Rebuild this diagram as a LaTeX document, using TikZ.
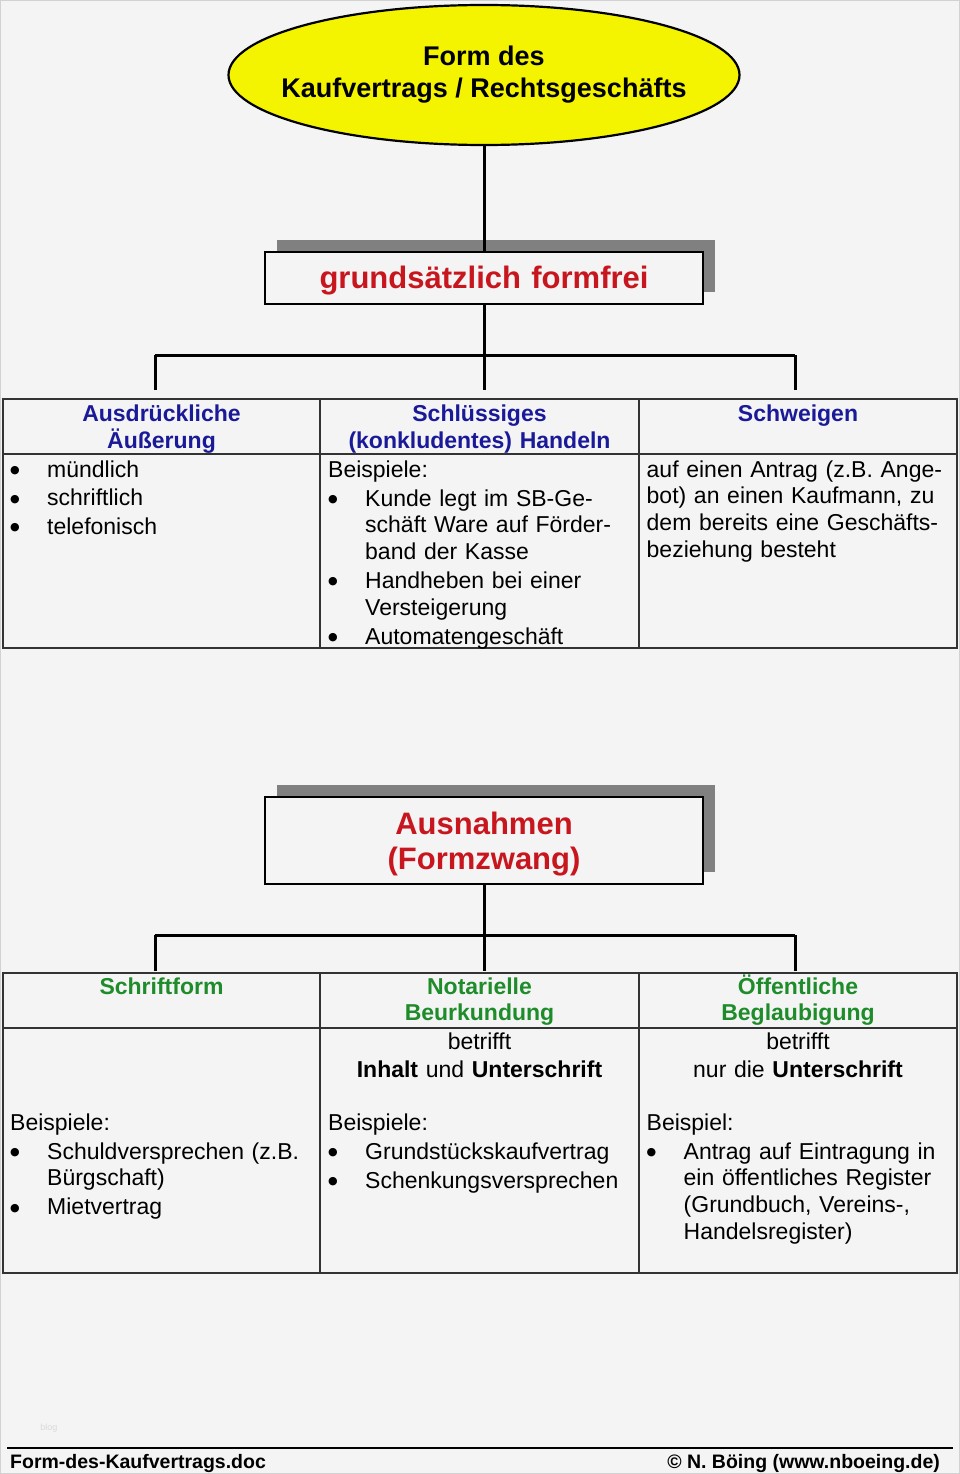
\documentclass[tikz,border=0pt]{standalone}
\usepackage{fontspec}
\setmainfont{Liberation Sans}
\newfontfamily\symfont{DejaVu Sans}
\usetikzlibrary{positioning, shapes.geometric, shadows}

\definecolor{bggray}{HTML}{F4F4F4}
\definecolor{titleyellow}{HTML}{F4F400}
\definecolor{shadowgray}{HTML}{808080}
\definecolor{titlered}{HTML}{C8161E}
\definecolor{headblue}{HTML}{1A1A99}
\definecolor{headgreen}{HTML}{1E8C2A}
\definecolor{tabline}{HTML}{333333}

\newcommand\blt{\makebox[37pt][l]{\raisebox{3.5pt}{\symfont\fontsize{11}{11}\selectfont ●}}}
\newcommand\ind{\hspace*{37pt}}

\begin{document}
\begin{tikzpicture}[x=1pt, y=-1pt,
        every node/.style={inner sep=0pt},
        conn/.style={line width=3pt},
        tab/.style={draw=tabline, line width=1.4pt},
        formbox/.style={draw, line width=1.4pt, fill=bggray, minimum width=438pt,
            drop shadow={shadow xshift=12pt, shadow yshift=12pt, fill=shadowgray, opacity=1}},
        formtext/.style={anchor=base, text width=430pt, align=center, text=titlered,
            font=\bfseries\fontsize{31}{35}\selectfont},
        headtext/.style={anchor=base, text width=300pt, align=center, font=\bfseries\fontsize{23}{26.7}\selectfont},
        midtext/.style={anchor=base, text width=300pt, align=center, font=\fontsize{23}{26.7}\selectfont},
        bodytext/.style={anchor=base west, text width=305pt, align=left, font=\fontsize{23}{26.7}\selectfont}
        ]

    \useasboundingbox (0,0) rectangle (960,1474);
    \fill[bggray] (0,0) rectangle (960,1474);
    \draw[gray!35, line width=1pt] (0.5,0.5) rectangle (959.5,1473.5);

    % title and the two boxes
    \node[ellipse, draw, line width=2.2pt, fill=titleyellow, minimum width=511pt, minimum height=140pt,
        inner xsep=-26pt, align=center, font=\bfseries\fontsize{27}{32}\selectfont] (title) at (484,75)
        {Form des\\Kaufvertrags / Rechtsgeschäfts};
    \node[formbox, minimum height=52pt] (frei) at (484,278) {};
    \node[formtext] (freitext) at (484,288) {grundsätzlich formfrei};
    \node[formbox, minimum height=87pt] (ausn) at (484,840.5) {};
    \node[formtext] (ausntext) at (484,834) {Ausnahmen\\(Formzwang)};

    % connectors
    \draw[conn] (title.south) -- (frei.north);
    \foreach \x [count=\i] in {155,484,795} {
        \coordinate (up\i) at (\x,355);
        \coordinate (dn\i) at (\x,390);
        \draw[conn] (up\i) -- (dn\i);
        \coordinate (lo\i) at (\x,935);
        \coordinate (ld\i) at (\x,971);
        \draw[conn] (lo\i) -- (ld\i);
    }
    \draw[conn] (frei.south) -- (up2);
    \draw[conn] (up1) -- (up3);
    \draw[conn] (ausn.south) -- (lo2);
    \draw[conn] (lo1) -- (lo3);

    % first table
    \draw[tab] (3,399) rectangle (957,648);
    \draw[tab] (3,454) -- (957,454) (320,399) -- (320,648) (639,399) -- (639,648);

    \node[headtext, text=headblue] (h11) at (161.5,421.7) {Ausdrückliche\\Äußerung};
    \node[headtext, text=headblue] (h12) at (479.5,421.7) {Schlüssiges\\(konkludentes) Handeln};
    \node[headtext, text=headblue] (h13) at (798,421.7) {Schweigen};

    \node[bodytext] (b11) at (10,477) {\blt mündlich\\[1.8pt]\blt schriftlich\\[1.8pt]\blt telefonisch};
    \node[bodytext] (b12) at (328,477) {Beispiele:\\[2.3pt]\blt Kunde legt im SB-Ge-\\\ind schäft Ware auf Förder-\\\ind band der Kasse\\[2.3pt]\blt Handheben bei einer\\\ind Versteigerung\\[2.3pt]\blt Automatengeschäft};
    \node[bodytext] (b13) at (646.5,477) {auf einen Antrag (z.B. Ange-\\bot) an einen Kaufmann, zu\\dem bereits eine Geschäfts-\\beziehung besteht};

    % second table
    \draw[tab] (3,973) rectangle (957,1273);
    \draw[tab] (3,1028) -- (957,1028) (320,973) -- (320,1273) (639,973) -- (639,1273);

    \node[headtext, text=headgreen] (h21) at (161.5,994) {Schriftform};
    \node[headtext, text=headgreen] (h22) at (479.5,994) {Notarielle\\Beurkundung};
    \node[headtext, text=headgreen] (h23) at (798,994) {Öffentliche\\Beglaubigung};

    \node[midtext] (m22) at (479.5,1049) {betrifft\\[2pt]\textbf{Inhalt} und \textbf{Unterschrift}};
    \node[midtext] (m23) at (798,1049) {betrifft\\[2pt]nur die \textbf{Unterschrift}};

    \node[bodytext] (b21) at (10,1130) {Beispiele:\\[2.3pt]\blt Schuldversprechen (z.B.\\\ind Bürgschaft)\\[2.3pt]\blt Mietvertrag};
    \node[bodytext] (b22) at (328,1130) {Beispiele:\\[2.3pt]\blt Grundstückskaufvertrag\\[2.3pt]\blt Schenkungsversprechen};
    \node[bodytext] (b23) at (646.5,1130) {Beispiel:\\[2.3pt]\blt Antrag auf Eintragung in\\\ind ein öffentliches Register\\\ind (Grundbuch, Vereins-,\\\ind Handelsregister)};

    % footer
    \node[font=\fontsize{9}{10}\selectfont, text=gray!30] (blog) at (49,1428) {blog};
    \draw[line width=1.2pt] (7,1448) -- (953,1448);
    \node[anchor=base west, font=\bfseries\fontsize{19.5}{22}\selectfont] (file) at (10,1468) {Form-des-Kaufvertrags.doc};
    \node[anchor=base east, font=\bfseries\fontsize{19.5}{22}\selectfont] (copy) at (940,1468) {© N. Böing (www.nboeing.de)};
\end{tikzpicture}
\end{document}
